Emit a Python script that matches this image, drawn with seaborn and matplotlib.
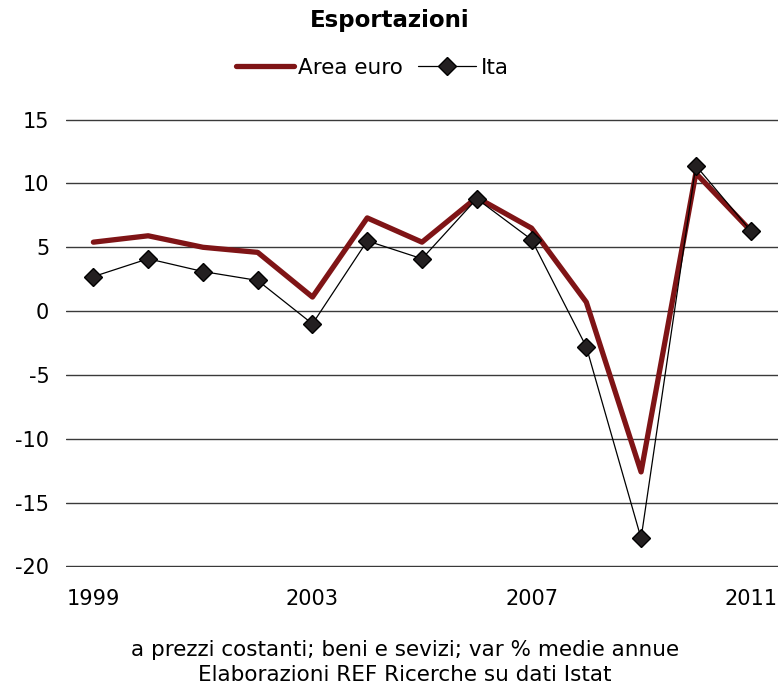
import pandas as pd
import seaborn as sns
import matplotlib.pyplot as plt

years = list(range(1999, 2012))
area_euro = [5.4, 5.9, 5.0, 4.6, 1.1, 7.3, 5.4, 8.9, 6.5, 0.7, -12.6, 10.8, 6.3]
ita = [2.7, 4.1, 3.1, 2.4, -1.0, 5.5, 4.1, 8.8, 5.6, -2.8, -17.8, 11.4, 6.3]
xticks = [1999, 2003, 2007, 2011]
yticks = [-20, -15, -10, -5, 0, 5, 10, 15]

df = pd.DataFrame({"anno": years, "Area euro": area_euro, "Ita": ita})

sns.set_theme(style="white")
plt.rcParams["font.family"] = ["DejaVu Sans"]
plt.rcParams["axes.unicode_minus"] = False
plt.rcParams["text.color"] = "black"

fig = plt.figure(figsize=(7.81, 6.86), dpi=100)
ax = fig.add_axes([66 / 781, 119 / 686, 712 / 781, 448 / 686])

sns.lineplot(data=df, x="anno", y="Area euro", ax=ax, color="#7f1416",
             linewidth=3.8, label="Area euro", zorder=3)
sns.lineplot(data=df, x="anno", y="Ita", ax=ax, color="black",
             linewidth=0.9, marker="D", markersize=9,
             markerfacecolor="#231f20", markeredgecolor="black",
             markeredgewidth=1, label="Ita", zorder=4)

ax.set_xlim(1998.5, 2011.5)
ax.set_ylim(-20.05, 15.05)
ax.set_xticks(xticks)
ax.set_yticks(yticks)
ax.set_xlabel("")
ax.set_ylabel("")
ax.yaxis.grid(True, color="#3a3a3a", linewidth=1)
ax.xaxis.grid(False)
for s in ax.spines.values():
    s.set_visible(False)
ax.tick_params(axis="both", length=0, labelsize=15, colors="black")
ax.tick_params(axis="x", pad=16)
ax.tick_params(axis="y", pad=12)

ax.legend(loc="center", bbox_to_anchor=(372 / 781, 1 - 68 / 686),
          bbox_transform=fig.transFigure, ncol=2, frameon=False,
          fontsize=15.5, handlelength=2.7, columnspacing=0.7,
          handletextpad=0.2)

fig.text(390 / 781, 1 - 20 / 686, "Esportazioni", ha="center", va="center",
         fontsize=16.5, fontweight="bold", color="black")
fig.text(405 / 781, 1 - 650 / 686,
         "a prezzi costanti; beni e sevizi; var % medie annue",
         ha="center", va="center", fontsize=15.5, color="black")
fig.text(405 / 781, 1 - 675 / 686, "Elaborazioni REF Ricerche su dati Istat",
         ha="center", va="center", fontsize=15.5, color="black")

fig.savefig("out.png", dpi=100)
